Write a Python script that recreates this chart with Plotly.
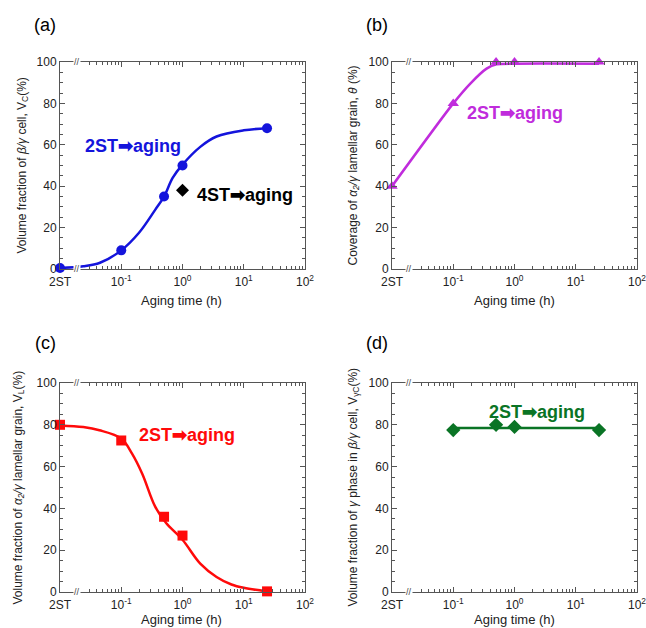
import plotly.graph_objects as go

# ---- data (2ST plotted at 0.01 h, the left edge) ----
time_2st = [0.01, 0.1, 0.5, 1, 24]
vc_2st = [0.5, 9, 35, 50, 68]
time_4st = [1]
vc_4st = [38]
coverage = [40, 80, 100, 100, 100]
vl_2st = [80, 72.5, 36, 27, 0.3]
time_d = [0.1, 0.5, 1, 24]
vgc = [77.5, 80, 79, 77.5]

# fitted guide curves
fit_a_t = [0.01, 0.024, 0.045, 0.1, 0.195, 0.36, 0.5, 0.69, 1, 1.95, 3.6, 10, 24]
fit_a_v = [0.5, 1.3, 3.0, 9, 17.5, 28.7, 35, 44, 50.4, 59, 64, 67, 68]
fit_b_t = [0.01, 0.1, 0.19, 0.35, 0.51, 1, 24]
fit_b_v = [40, 80, 89.6, 96.8, 98.9, 99.2, 99.2]
fit_c_t = [0.01, 0.024, 0.044, 0.1, 0.15, 0.22, 0.36, 0.54, 1, 1.95, 3.6, 6.3, 10, 24]
fit_c_v = [79.7, 78.9, 77.4, 73.4, 66.2, 56.6, 40.7, 33, 25, 13.6, 7.2, 3.6, 2.0, 0.3]

xtick_vals = [0.01, 0.1, 1, 10, 100]
xtick_text = ["2ST", "10<sup>-1</sup>", "10<sup>0</sup>", "10<sup>1</sup>", "10<sup>2</sup>"]
ytick_vals = [0, 20, 40, 60, 80, 100]
minor_x = [0.03, 0.04, 0.05, 0.06, 0.07, 0.08, 0.09] + \
          [m * 10 ** e for e in (-1, 0, 1) for m in range(2, 10)]

BLUE = "#1414DC"
MAG = "#C02CDC"
RED = "#FF0A0A"
GREEN = "#0A7425"
FONT = "Liberation Sans, Arial, sans-serif"

fig = go.Figure()

W, H = 646, 628


def px_x(p):
    return p / W


def px_y(p):
    return 1 - p / H


xdom_l = [px_x(60), px_x(305)]
xdom_r = [px_x(392), px_x(637)]
ydom_t = [px_y(269), px_y(62)]
ydom_b = [px_y(592), px_y(383)]

panels = [("x", "y", xdom_l, ydom_t), ("x2", "y2", xdom_r, ydom_t),
          ("x3", "y3", xdom_l, ydom_b), ("x4", "y4", xdom_r, ydom_b)]

axcommon = dict(showline=True, linecolor="#555", linewidth=1, mirror="allticks",
                ticks="inside", tickcolor="#555", showgrid=False, zeroline=False,
                ticklabeloverflow="allow",
                tickfont=dict(family=FONT, size=12, color="#222"))

layout = {}
for i, (xa, ya, xd, yd) in enumerate(panels):
    sx = "" if i == 0 else str(i + 1)
    layout["xaxis" + sx] = dict(axcommon, type="log", range=[-2, 2], domain=xd,
                                anchor=ya, tickvals=xtick_vals, ticktext=xtick_text,
                                ticklen=5, ticklabelstandoff=2,
                                minor=dict(tickvals=minor_x, ticks="inside", ticklen=3,
                                           tickcolor="#555"))
    layout["yaxis" + sx] = dict(axcommon, range=[0, 100], domain=yd, anchor=xa,
                                tickvals=ytick_vals, ticklen=5,
                                minor=dict(dtick=5, ticks="inside", ticklen=3,
                                           tickcolor="#555"))

line = dict(width=2.5, shape="spline", smoothing=1.0)
# (a)
fig.add_trace(go.Scatter(x=fit_a_t, y=fit_a_v, mode="lines", xaxis="x", yaxis="y",
                         line=dict(line, color=BLUE)))
fig.add_trace(go.Scatter(x=time_2st, y=vc_2st, mode="markers", xaxis="x", yaxis="y",
                         marker=dict(symbol="circle", size=10, color=BLUE), cliponaxis=False))
fig.add_trace(go.Scatter(x=time_4st, y=vc_4st, mode="markers", xaxis="x", yaxis="y",
                         marker=dict(symbol="diamond", size=10, color="black"), cliponaxis=False))
# (b)
fig.add_trace(go.Scatter(x=fit_b_t, y=fit_b_v, mode="lines", xaxis="x2", yaxis="y2",
                         line=dict(line, color=MAG, smoothing=0.7)))
fig.add_trace(go.Scatter(x=time_2st, y=coverage, mode="markers", xaxis="x2", yaxis="y2",
                         marker=dict(symbol="triangle-up", size=10, color=MAG), cliponaxis=False))
# (c)
fig.add_trace(go.Scatter(x=fit_c_t, y=fit_c_v, mode="lines", xaxis="x3", yaxis="y3",
                         line=dict(line, color=RED)))
fig.add_trace(go.Scatter(x=time_2st, y=vl_2st, mode="markers", xaxis="x3", yaxis="y3",
                         marker=dict(symbol="square", size=10, color=RED), cliponaxis=False))
# (d)
mean_d = sum(vgc) / len(vgc)
fig.add_trace(go.Scatter(x=[min(time_d), max(time_d)], y=[mean_d, mean_d], mode="lines",
                         xaxis="x4", yaxis="y4", line=dict(color=GREEN, width=2.5)))
fig.add_trace(go.Scatter(x=time_d, y=vgc, mode="markers", xaxis="x4", yaxis="y4",
                         marker=dict(symbol="diamond", size=11, color=GREEN), cliponaxis=False))

ann = []
lab = dict(showarrow=False, xanchor="left", yanchor="middle")
arrow = "2ST\u27a1aging"
ann.append(dict(lab, x=-1.62, y=59.5, xref="x", yref="y", text=f"<b>{arrow}</b>",
                font=dict(family=FONT, size=18, color=BLUE)))
ann.append(dict(lab, x=0.21, y=35.7, xref="x", yref="y", text="<b>4ST\u27a1aging</b>",
                font=dict(family=FONT, size=18, color="black")))
ann.append(dict(lab, x=-0.81, y=75.4, xref="x2", yref="y2", text=f"<b>{arrow}</b>",
                font=dict(family=FONT, size=18, color=MAG)))
ann.append(dict(lab, x=-0.74, y=75.1, xref="x3", yref="y3", text=f"<b>{arrow}</b>",
                font=dict(family=FONT, size=18, color=RED)))
ann.append(dict(lab, x=-0.45, y=86, xref="x4", yref="y4", text=f"<b>{arrow}</b>",
                font=dict(family=FONT, size=18, color=GREEN)))

for txt, px, py in [("(a)", 45, 25), ("(b)", 377, 25), ("(c)", 45, 343), ("(d)", 377, 343)]:
    ann.append(dict(text=txt, x=px_x(px), y=px_y(py), xref="paper", yref="paper",
                    showarrow=False, xanchor="center", yanchor="middle",
                    font=dict(family=FONT, size=18, color="black")))

ytitles = [
    ("Volume fraction of <i>β/γ</i> cell, V<sub>C</sub>(%)", 22, "y"),
    ("Coverage of <i>α<sub>2</sub>/γ</i> lamellar grain, <i>θ</i> (%)", 353, "y2"),
    ("Volume fraction of <i>α<sub>2</sub>/γ</i> lamellar grain, V<sub>L</sub>(%)", 18, "y3"),
    ("Volume fraction of <i>γ</i> phase in <i>β/γ</i> cell, V<sub>γC</sub>(%)", 353, "y4"),
]
for txt, px, ya in ytitles:
    ann.append(dict(text=txt, x=px_x(px), y=0.5, xref="paper", yref=ya + " domain",
                    textangle=-90, showarrow=False, xanchor="center", yanchor="middle",
                    font=dict(family=FONT, size=12, color="#222")))

for px, py in [(182, 300), (514, 300), (182, 619), (514, 619)]:
    ann.append(dict(text="Aging time (h)", x=px_x(px), y=px_y(py), xref="paper", yref="paper",
                    showarrow=False, xanchor="center", yanchor="middle",
                    font=dict(family=FONT, size=13, color="#222")))

for xa, ya in [("x", "y"), ("x2", "y2"), ("x3", "y3"), ("x4", "y4")]:
    for yv in (0, 100):
        ann.append(dict(text="//", x=-1.73, y=yv, xref=xa, yref=ya, showarrow=False,
                        xanchor="center", yanchor="middle", bgcolor="white", borderpad=0,
                        font=dict(family=FONT, size=9, color="#444")))

fig.update_layout(width=W, height=H,
                  margin=dict(l=0, r=0, t=0, b=0, autoexpand=False),
                  paper_bgcolor="white", plot_bgcolor="white", showlegend=False,
                  annotations=ann, **layout)

fig.write_html("out.html", config={"displayModeBar": False},
               post_script="document.body.style.margin='0px';"
                           "document.body.style.overflow='hidden';"
                           "document.documentElement.style.overflow='hidden';")
